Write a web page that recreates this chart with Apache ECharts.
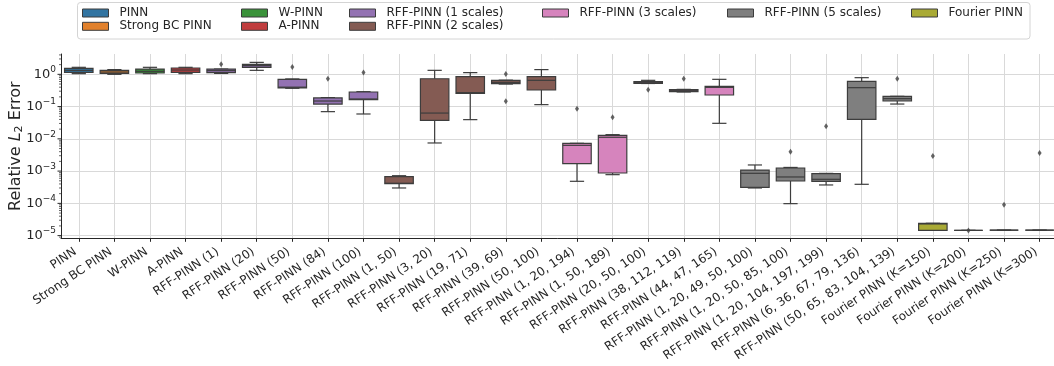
<!DOCTYPE html>
<html><head><meta charset="utf-8">
<script src="https://cdn.jsdelivr.net/npm/echarts@6/dist/echarts.min.js"></script>
<style>html,body{margin:0;padding:0;background:#fff}#c{width:1054px;height:366px}</style>
</head><body><div id="c"></div>
<script>
const categories = ['PINN','Strong BC PINN','W-PINN','A-PINN','RFF-PINN (1)','RFF-PINN (20)','RFF-PINN (50)','RFF-PINN (84)','RFF-PINN (100)',
  'RFF-PINN (1, 50)','RFF-PINN (3, 20)','RFF-PINN (19, 71)','RFF-PINN (39, 69)','RFF-PINN (50, 100)',
  'RFF-PINN (1, 20, 194)','RFF-PINN (1, 50, 189)','RFF-PINN (20, 50, 100)','RFF-PINN (38, 112, 119)','RFF-PINN (44, 47, 165)',
  'RFF-PINN (1, 20, 49, 50, 100)','RFF-PINN (1, 20, 50, 85, 100)','RFF-PINN (1, 20, 104, 197, 199)','RFF-PINN (6, 36, 67, 79, 136)','RFF-PINN (50, 65, 83, 104, 139)',
  'Fourier PINN (K=150)','Fourier PINN (K=200)','Fourier PINN (K=250)','Fourier PINN (K=300)'];
const groupNames = ['PINN','Strong BC PINN','W-PINN','A-PINN','RFF-PINN (1 scales)','RFF-PINN (2 scales)','RFF-PINN (3 scales)','RFF-PINN (5 scales)','Fourier PINN'];
const groupColors = ['#3274a1','#e1812c','#3a923a','#c03d3e','#9372b2','#845b53','#d684bd','#7f7f7f','#a9aa35'];
const categoryGroup = [0,1,2,3,4,4,4,4,4,5,5,5,5,5,6,6,6,6,6,7,7,7,7,7,8,8,8,8];
const whiskerLow  = [1.05,1.00,1.05,1.05,1.07,1.33,0.37,0.0697,0.059, 3.0e-4,0.00745,0.0394,0.50,0.115, 4.83e-4,7.76e-4,0.52,0.284,0.0303, 3.0e-4,9.8e-5,3.72e-4,3.9e-4,0.12, 1.46e-5,1.45e-5,1.47e-5,1.47e-5];
const q1          = [1.15,1.07,1.10,1.15,1.13,1.65,0.38,0.120,0.164, 4.09e-4,0.0375,0.258,0.514,0.327, 0.0017,8.75e-4,0.526,0.290,0.229, 3.15e-4,4.94e-4,4.83e-4,0.0403,0.149, 1.46e-5,1.45e-5,1.47e-5,1.47e-5];
const median      = [1.33,1.18,1.24,1.36,1.30,1.86,0.40,0.149,0.172, 4.2e-4,0.063,0.27,0.565,0.652, 0.0063,0.0112,0.552,0.312,0.395, 8.55e-4,6.58e-4,5.57e-4,0.386,0.176, 2.3e-5,1.45e-5,1.47e-5,1.47e-5];
const q3          = [1.53,1.33,1.46,1.57,1.46,2.04,0.70,0.185,0.283, 6.7e-4,0.73,0.847,0.652,0.847, 0.00727,0.0129,0.593,0.335,0.425, 1.08e-3,1.25e-3,8.35e-4,0.607,0.208, 2.41e-5,1.45e-5,1.47e-5,1.47e-5];
const whiskerHigh = [1.65,1.40,1.65,1.65,1.46,2.35,0.72,0.190,0.290, 7.2e-4,1.33,1.13,0.66,1.40, 0.00727,0.0135,0.652,0.342,0.70, 1.55e-3,1.3e-3,8.5e-4,0.788,0.208, 2.41e-5,1.45e-5,1.47e-5,1.47e-5];
const outliers = [[4,2.04],[6,1.69],[7,0.73],[8,1.15],[12,1.02],[12,0.146],[14,0.0863],[15,0.0465],[16,0.335],[17,0.734],
  [20,4.0e-3],[21,0.0245],[23,0.734],[24,2.94e-3],[25,1.43e-5],[26,9.1e-5],[27,3.65e-3]];
const yMin = 8.26e-6, yMax = 4.27;
const majorTickExponents = [-5,-4,-3,-2,-1,0];

const FONT = 'DejaVu Sans', TXT = '#262626', LINE = '#3d3d3d', LW = 1.2, GRID = '#d9d9d9';

function renderBox(params, api) {
  const i = api.value(0);
  const band = api.size([1, 1])[0];
  const w = band * 0.8, cap = w / 2;
  const pLo = api.coord([i, api.value(1)]);
  const pQ1 = api.coord([i, api.value(2)]);
  const pMed = api.coord([i, api.value(3)]);
  const pQ3 = api.coord([i, api.value(4)]);
  const pHi = api.coord([i, api.value(5)]);
  const x = pMed[0];
  const ls = {stroke: LINE, lineWidth: LW};
  return {type: 'group', children: [
    {type: 'line', shape: {x1: x, y1: pQ3[1], x2: x, y2: pHi[1]}, style: ls},
    {type: 'line', shape: {x1: x, y1: pQ1[1], x2: x, y2: pLo[1]}, style: ls},
    {type: 'line', shape: {x1: x - cap / 2, y1: pHi[1], x2: x + cap / 2, y2: pHi[1]}, style: ls},
    {type: 'line', shape: {x1: x - cap / 2, y1: pLo[1], x2: x + cap / 2, y2: pLo[1]}, style: ls},
    {type: 'rect', shape: {x: x - w / 2, y: pQ3[1], width: w, height: pQ1[1] - pQ3[1]}, style: {fill: api.visual('color'), stroke: LINE, lineWidth: LW}},
    {type: 'line', shape: {x1: x - w / 2, y1: pMed[1], x2: x + w / 2, y2: pMed[1]}, style: ls}
  ]};
}

const series = groupNames.map((name, g) => ({
  type: 'custom', name, z: 3,
  itemStyle: {color: groupColors[g]},
  encode: {x: 0, y: [1, 2, 3, 4, 5]},
  data: categories.map((c, i) => i).filter(i => categoryGroup[i] === g)
    .map(i => [i, whiskerLow[i], q1[i], median[i], q3[i], whiskerHigh[i]]),
  renderItem: renderBox
}));

series.push({
  type: 'scatter', name: 'outliers', z: 5, symbol: 'diamond', symbolSize: [4, 6],
  itemStyle: {color: LINE}, data: outliers
});

// y-axis ticks (major + log minor) drawn at the axis through the y scale
const yTicks = [];
for (let n = -6; n <= 0; n++) {
  for (let m = 1; m <= 9; m++) {
    const v = m * Math.pow(10, n);
    if (v >= yMin && v <= yMax) yTicks.push([0, v, m === 1 ? 1 : 0]);
  }
}
series.push({
  type: 'custom', name: 'yticks', silent: true, z: 6,
  encode: {x: 0, y: 1}, data: yTicks,
  renderItem: (params, api) => {
    const p = api.coord([0, api.value(1)]);
    const x0 = params.coordSys.x;
    const major = api.value(2) === 1;
    return {type: 'line', shape: {x1: x0 - (major ? 3.5 : 2), y1: p[1], x2: x0, y2: p[1]},
      style: {stroke: TXT, lineWidth: major ? 1 : 0.7}};
  }
});

const legendColumns = [[0, 1], [2, 3], [4, 5], [6], [7], [8]];
const legendLefts = [82, 241, 349, 542, 727, 911];

const option = {
  animation: false,
  backgroundColor: '#fff',
  graphic: [{type: 'rect', z: 0, shape: {x: 77.5, y: 2.5, width: 952.5, height: 36.5, r: 3},
    style: {fill: 'rgba(255,255,255,0.8)', stroke: '#d4d4d4', lineWidth: 1}}],
  legend: legendColumns.map((col, k) => ({
    orient: 'vertical', left: legendLefts[k], top: 6.5, padding: 0, itemWidth: 26, itemHeight: 8, itemGap: 0.3,
    icon: 'rect', selectedMode: false,
    data: col.map(g => groupNames[g]),
    itemStyle: {borderColor: LINE, borderWidth: 1},
    textStyle: {fontFamily: FONT, fontSize: 12, color: TXT, lineHeight: 13, padding: [0, 0, 0, 6]}
  })),
  grid: {left: 61, top: 54, width: 996.4, bottom: 127.7, outerBoundsMode: 'none', containLabel: false},
  xAxis: {
    type: 'category', data: categories, boundaryGap: true,
    axisLine: {show: true, onZero: false, lineStyle: {color: TXT, width: 1}},
    axisTick: {show: true, interval: 0, alignWithLabel: true, length: 3.5, lineStyle: {color: TXT, width: 1}},
    splitLine: {show: true, interval: 0, alignWithLabel: true, lineStyle: {color: GRID, width: 1}},
    axisLabel: {interval: 0, rotate: 34, margin: 10, fontFamily: FONT, fontSize: 12, color: TXT, padding: [0, 4, 0, 0]}
  },
  yAxis: {
    type: 'log', logBase: 10, min: yMin, max: yMax,
    axisLine: {show: true, lineStyle: {color: TXT, width: 1}},
    axisTick: {show: false},
    splitLine: {show: true, showMinLine: false, showMaxLine: false, lineStyle: {color: GRID, width: 1}},
    axisLabel: {
      margin: 5, color: TXT, fontFamily: FONT,
      formatter: v => {
        const e = Math.log10(v), n = Math.round(e);
        if (Math.abs(e - n) > 1e-6 || majorTickExponents.indexOf(n) < 0) return '';
        return '{b|10}{s|' + (n < 0 ? '\u2212' + (-n) : n) + '}';
      },
      rich: {
        b: {fontSize: 13, lineHeight: 18, fontFamily: FONT, color: TXT},
        s: {fontSize: 9, lineHeight: 9, verticalAlign: 'top', fontFamily: FONT, color: TXT}
      }
    },
    name: '{n|Relative }{i|L}{sub|2}{n| Error}', nameLocation: 'middle', nameRotate: 90, nameGap: 36,
    nameMoveOverlap: false,
    nameTextStyle: {
      color: TXT, fontFamily: FONT, fontSize: 16,
      rich: {
        n: {fontSize: 16, lineHeight: 18, fontFamily: FONT, color: TXT},
        i: {fontSize: 16, lineHeight: 18, fontStyle: 'italic', fontFamily: FONT, color: TXT},
        sub: {fontSize: 11, lineHeight: 11, verticalAlign: 'bottom', fontFamily: FONT, color: TXT}
      }
    }
  },
  series
};

const chart = echarts.init(document.getElementById('c'), null, {renderer: 'canvas'});
chart.setOption(option);
</script>
</body></html>
